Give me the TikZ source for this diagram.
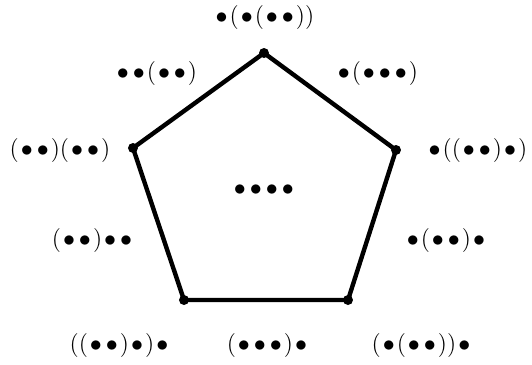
\documentclass[tikz,border=0pt]{standalone}
\usepackage{amsmath, amssymb}
\usepackage{tikz}
\usetikzlibrary{positioning, calc}
\tikzset{>=latex}
\tikzset{font=\large}
\newcommand{\dt}{{\mkern1.5mu\bullet\mkern1.5mu}}
\tikzset{word/.style={inner sep=1pt}}
\tikzset{vdot/.style={circle, fill=black, inner sep=0pt, minimum size=5pt}}

\begin{document}
\begin{tikzpicture}[x=0.5pt, y=-0.5pt]
      \useasboundingbox (0, 0) rectangle (532, 365); %
      % corners of the pentagon
      \coordinate (T) at (264, 53); %
      \coordinate (R) at (396, 150); %
      \coordinate (BR) at (348, 300); %
      \coordinate (BL) at (184, 300); %
      \coordinate (L) at (133, 148); %
      \draw[line width=2.2pt, line join=miter] (T) -- (R) -- (BR) -- (BL) -- (L) -- cycle; %
      \foreach \c in {T, R, BR, BL, L} {
        \node[vdot] at (\c) {}; %
      }
      % vertex labels
      \node[word] (wT) at (264, 17) {$\dt(\dt(\dt\dt))$}; %
      \node[word] (wR) at (477, 150) {$\dt((\dt\dt)\dt)$}; %
      \node[word] (wBR) at (422, 345) {$(\dt(\dt\dt))\dt$}; %
      \node[word] (wBL) at (120, 345) {$((\dt\dt)\dt)\dt$}; %
      \node[word] (wL) at (60, 150) {$(\dt\dt)(\dt\dt)$}; %
      % edge labels
      \node[word] (eTL) at (156, 73) {$\dt\dt(\dt\dt)$}; %
      \node[word] (eTR) at (377, 73) {$\dt(\dt\dt\dt)$}; %
      \node[word] (eR) at (446, 240) {$\dt(\dt\dt)\dt$}; %
      \node[word] (eB) at (268, 345) {$(\dt\dt\dt)\dt$}; %
      \node[word] (eL) at (93, 240) {$(\dt\dt)\dt\dt$}; %
      % face label
      \node[word] (face) at (264, 190) {$\dt\dt\dt\dt$}; %
    \end{tikzpicture}
\end{document}
